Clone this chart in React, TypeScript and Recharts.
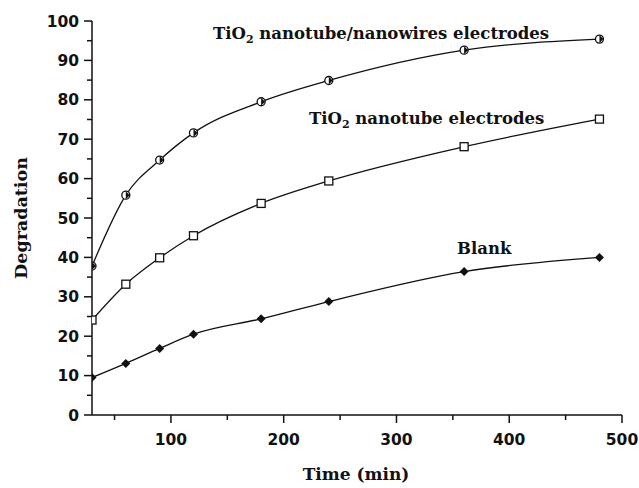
import React from 'react';
import { LineChart, Line, XAxis, YAxis } from 'recharts';

const times = [30, 60, 90, 120, 180, 240, 360, 480];
const nanowires = [37.8, 55.8, 64.7, 71.6, 79.5, 84.9, 92.6, 95.4];
const nanotube = [24.1, 33.2, 39.9, 45.5, 53.7, 59.4, 68.1, 75.1];
const blank = [9.5, 13.1, 16.9, 20.5, 24.4, 28.8, 36.4, 40.0];

const yTicks = [0, 5, 10, 15, 20, 25, 30, 35, 40, 45, 50, 55, 60, 65, 70, 75, 80, 85, 90, 95, 100];
const xTicks = [50, 100, 150, 200, 250, 300, 350, 400, 450, 500];

const data = times.map((t, i) => ({ t, nw: nanowires[i], nt: nanotube[i], bl: blank[i] }));

const tickFont = { fontFamily: 'DejaVu Sans', fontWeight: 700, fontSize: 15.5, fill: '#111' };
const serifFont = 'DejaVu Serif';

const YTick = (props: any) => {
  const { x, y, payload } = props;
  const major = payload.value % 10 === 0;
  return (
    <g>
      <line x1={x} y1={y} x2={x - (major ? 8 : 5)} y2={y} stroke="#111" strokeWidth={1.5} />
      {major && (
        <text x={x - 13} y={y + 5.5} textAnchor="end" {...tickFont}>
          {payload.value}
        </text>
      )}
    </g>
  );
};

const XTick = (props: any) => {
  const { x, y, payload } = props;
  const major = payload.value % 100 === 0;
  return (
    <g>
      <line x1={x} y1={y} x2={x} y2={y + (major ? 8 : 5)} stroke="#111" strokeWidth={1.5} />
      {major && (
        <text x={x} y={y + 30} textAnchor="middle" {...tickFont}>
          {payload.value}
        </text>
      )}
    </g>
  );
};

const HalfDot = (props: any) => {
  const { cx, cy } = props;
  if (cx == null || cy == null) return null;
  return (
    <g>
      <circle cx={cx} cy={cy} r={4} fill="#fff" stroke="#111" strokeWidth={1.3} />
      <path d={`M${cx},${cy - 4} L${cx + 4},${cy} L${cx},${cy + 4} Z`} fill="#111" />
    </g>
  );
};

const SquareDot = (props: any) => {
  const { cx, cy } = props;
  if (cx == null || cy == null) return null;
  return <rect x={cx - 4} y={cy - 4} width={8} height={8} fill="#fff" stroke="#111" strokeWidth={1.3} />;
};

const FilledDot = (props: any) => {
  const { cx, cy } = props;
  if (cx == null || cy == null) return null;
  return <path d={`M${cx},${cy - 4.5} L${cx + 4.5},${cy} L${cx},${cy + 4.5} L${cx - 4.5},${cy} Z`} fill="#111" />;
};

const annoStyle = { fontFamily: serifFont, fontWeight: 700, fontSize: 16.5, fill: '#111' };

export default function App() {
  return (
    <div style={{ position: 'absolute', left: 0, top: 0, width: 639, height: 488, background: '#fff' }}>
      <LineChart width={639} height={488} data={data} margin={{ top: 21, right: 17, left: 42, bottom: 43 }}>
        <XAxis
          dataKey="t"
          type="number"
          domain={[30, 500]}
          ticks={xTicks}
          interval={0}
          tickSize={0}
          tickMargin={0}
          tick={<XTick />}
          axisLine={{ stroke: '#111', strokeWidth: 1.5 }}
          height={30}
          allowDataOverflow
        />
        <YAxis
          type="number"
          domain={[0, 100]}
          ticks={yTicks}
          interval={0}
          tickSize={0}
          tickMargin={0}
          tick={<YTick />}
          axisLine={{ stroke: '#111', strokeWidth: 1.5 }}
          width={50}
        />
        <Line dataKey="nw" type="monotone" stroke="#111" strokeWidth={1.3} dot={<HalfDot />} isAnimationActive={false} />
        <Line dataKey="nt" type="monotone" stroke="#111" strokeWidth={1.3} dot={<SquareDot />} isAnimationActive={false} />
        <Line dataKey="bl" type="monotone" stroke="#111" strokeWidth={1.3} dot={<FilledDot />} isAnimationActive={false} />
        <text x={213} y={39} {...annoStyle}>
          TiO<tspan fontSize={11} dy={4}>2</tspan><tspan dy={-4}> nanotube/nanowires electrodes</tspan>
        </text>
        <text x={309} y={124} {...annoStyle}>
          TiO<tspan fontSize={11} dy={4}>2</tspan><tspan dy={-4}> nanotube electrodes</tspan>
        </text>
        <text x={457} y={254} {...annoStyle}>
          Blank
        </text>
        <text
          x={21}
          y={218}
          transform="rotate(-90, 21, 218)"
          textAnchor="middle"
          dominantBaseline="central"
          fontFamily={serifFont}
          fontWeight={700}
          fontSize={17.5}
          fill="#111"
        >
          Degradation
        </text>
        <text x={356} y={480} textAnchor="middle" fontFamily={serifFont} fontWeight={700} fontSize={17} fill="#111">
          Time (min)
        </text>
      </LineChart>
    </div>
  );
}
